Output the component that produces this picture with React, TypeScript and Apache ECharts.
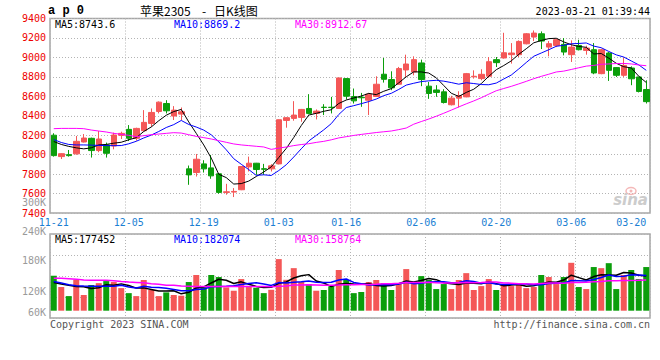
import React, { useEffect, useRef } from "react";
import * as echarts from "echarts";

const dates = [
  "11-21", "11-22", "11-23", "11-24", "11-25", "11-28", "11-29", "11-30", "12-01", "12-02",
  "12-05", "12-06", "12-07", "12-08", "12-09", "12-12", "12-13", "12-14", "12-15", "12-16",
  "12-19", "12-20", "12-21", "12-22", "12-23", "12-26", "12-27", "12-28", "12-29", "12-30",
  "01-03", "01-04", "01-05", "01-06", "01-09", "01-10", "01-11", "01-12", "01-13",
  "01-16", "01-17", "01-18", "01-19", "01-20",
  "01-30", "01-31", "02-01", "02-02", "02-03",
  "02-06", "02-07", "02-08", "02-09", "02-10", "02-13", "02-14", "02-15", "02-16", "02-17",
  "02-20", "02-21", "02-22", "02-23", "02-24", "02-27", "02-28", "03-01", "03-02", "03-03",
  "03-06", "03-07", "03-08", "03-09", "03-10", "03-13", "03-14", "03-15", "03-16", "03-17",
  "03-20",
];
const tickDates = ["11-21", "12-05", "12-19", "01-03", "01-16", "02-06", "02-20", "03-06", "03-20"];

const opens = [
  8200, 7980, 8000, 8008, 8130, 8168, 8042, 8100, 8089, 8199,
  8260, 8168, 8246, 8321, 8444, 8526, 8397, 8417, 7854, 7816,
  7905, 7864, 7803, 7612, 7615, 7639, 7874, 7912, 7855, 7854,
  7905, 8352, 8373, 8383, 8475, 8424, 8488, 8487, 8475, 8782,
  8598, 8590, 8560, 8598, 8827, 8772, 8724, 8871, 8850, 8943,
  8704, 8665, 8646, 8513, 8581, 8594, 8800, 8782, 8806, 8977,
  8994, 9028, 9028, 9140, 9209, 9243, 9106, 9123, 9134, 9028,
  9123, 9072, 9079, 8833, 9045, 8895, 8816, 8891, 8799, 8670,
];
const closes = [
  7990, 8010, 7990, 8137, 8171, 8042, 8161, 8014, 8202, 8219,
  8168, 8270, 8332, 8434, 8540, 8451, 8458, 8441, 7792, 7953,
  7854, 7782, 7612, 7618, 7622, 7878, 7912, 7847, 7850, 7885,
  8359, 8380, 8407, 8465, 8424, 8448, 8485, 8485.5, 8789, 8601,
  8553, 8585, 8622, 8724, 8775, 8687, 8885, 8932, 8977, 8772,
  8629, 8640, 8536, 8581, 8608, 8833, 8806, 8826, 8956, 8946,
  9048, 9045, 9164, 9243, 9250, 9168, 9141, 9182, 9055, 9106,
  9079, 9096, 8840, 9079, 8867, 8816, 8918, 8780, 8650, 8545,
];
const lows = [
  7980, 7955, 7980, 8000, 8125, 7970, 8025, 7970, 8055, 8161,
  8140, 8144, 8240, 8287, 8424, 8424, 8356, 8356, 7690, 7775,
  7816, 7752, 7598, 7588, 7564, 7635, 7827, 7793, 7793, 7827,
  7900, 8277, 8349, 8338, 8414, 8362, 8407, 8424, 8470, 8567,
  8526, 8492, 8407, 8595, 8741, 8663, 8720, 8799, 8816, 8704,
  8574, 8595, 8526, 8506, 8485, 8590, 8782, 8765, 8792, 8901,
  8987, 8936, 9004, 9134, 9168, 9086, 9011, 9106, 9021, 8953,
  9072, 9028, 8827, 8827, 8758, 8799, 8799, 8714, 8640, 8526,
];
const highs = [
  8220, 8015, 8048, 8192, 8212, 8175, 8243, 8124, 8226, 8236,
  8304, 8277, 8458, 8475, 8547, 8560, 8499, 8485, 7888, 8007,
  7943, 7997, 7810, 7700, 7656, 7880, 7980, 7915, 7905, 7902,
  8360, 8385, 8550, 8470, 8622, 8465, 8519, 8594, 8790, 8785,
  8680, 8635, 8635, 8806, 8994, 8857, 8902, 9028, 9011, 8977,
  8748, 8714, 8673, 8605, 8652, 8840, 8867, 8878, 9004, 9004,
  9253, 9147, 9175, 9250, 9277, 9267, 9168, 9192, 9199, 9175,
  9181, 9120, 9147, 9089, 9055, 8901, 8997, 8908, 8800, 8765,
];
const volumes = [
  180500, 122200, 75400, 159500, 81200, 132700, 142300, 152800, 148000, 116500,
  90700, 75400, 158500, 107000, 75400, 94500, 81200, 77400, 148000, 184300,
  122200, 184300, 173800, 120300, 103100, 163300, 122200, 118400, 90700, 107900,
  266400, 159500, 219700, 148000, 137500, 103100, 107000, 125100, 210100, 158500,
  90700, 96500, 148000, 158500, 142300, 107000, 142300, 214900, 137500, 178600,
  158500, 111700, 137500, 111700, 158500, 193900, 107000, 127000, 163300, 107000,
  137500, 127000, 142300, 116500, 122200, 184300, 173800, 137500, 173800, 247300,
  122200, 111700, 225400, 219700, 245400, 111700, 184300, 210100, 163300, 225400,
];

// moving-average values before enough visible history exists
const ma5Head = [8135, 8105, 8085, 8070];
const ma10Head = [8155, 8125, 8105, 8100, 8100, 8098, 8095, 8093, 8092];
const ma30Head = [
  8267, 8270, 8270, 8270, 8267, 8253, 8243, 8233, 8219, 8209,
  8199, 8185, 8195, 8205, 8212, 8219, 8226, 8222, 8205, 8188,
  8175, 8161, 8144, 8127, 8110, 8100, 8093, 8086, 8079,
];
const volMa5Head = [146000, 138000, 131000, 125000];
const volMa10Head = [151000, 143000, 134000, 129000, 127000, 126000, 126000, 126000, 126000];
const volMa30Head = [
  167000, 167000, 165000, 163000, 158000, 157000, 157000, 157000, 155000, 151000,
  148000, 146000, 144000, 139000, 136000, 132000, 131000, 127000, 126000, 125000,
  125000, 125000, 125000, 125000, 125000, 125000, 125000, 125000, 125000,
];

const priceHeader = ["MA5:8743.6", "MA10:8869.2", "MA30:8912.67"];
const volHeader = ["MA5:177452", "MA10:182074", "MA30:158764"];
const volTickLabels = ["300K", "240K", "180K", "120K", "60K"];

function movingAvg(src: number[], n: number, head: number[]) {
  return src.map((_, i) => {
    if (i < n - 1) return head[i];
    let s = 0;
    for (let k = i - n + 1; k <= i; k++) s += src[k];
    return Math.round((s / n) * 100) / 100;
  });
}

const RED = "#f45757";
const GREEN = "#0b9e0b";
const MONO = "'DejaVu Sans Mono', 'Liberation Mono', monospace";

export default function App() {
  const ref = useRef<HTMLDivElement>(null);

  useEffect(() => {
    if (!ref.current) return;
    const chart = echarts.init(ref.current, null, { renderer: "svg" });
    const dotted = { color: "#b4b4b4", width: 1, type: [1, 2] as number[] };
    const headerColors = ["#000000", "#0000ff", "#ff00ff"];
    const headerX = [55, 174, 295];
    const volYs = [202, 231, 260, 291, 312];

    const graphic: any[] = [
      { type: "text", x: 48, y: 11, style: { text: "a p 0", font: `bold 12px 'Liberation Mono'`, fill: "#000", textVerticalAlign: "middle" } },
      { type: "text", x: 140, y: 10, style: { text: "苹果2305", font: `12px 'Noto Sans CJK SC'`, fill: "#000", textVerticalAlign: "middle" } },
      { type: "text", x: 202, y: 10, style: { text: "-", font: `12px 'Noto Sans CJK SC'`, fill: "#000", textVerticalAlign: "middle" } },
      { type: "text", x: 214, y: 10, style: { text: "日K线图", font: `12px 'Noto Sans CJK SC'`, fill: "#000", textVerticalAlign: "middle" } },
      { type: "text", x: 650, y: 11, style: { text: "2023-03-21 01:39:44", font: `10px ${MONO}`, fill: "#000", textAlign: "right", textVerticalAlign: "middle" } },
      { type: "text", x: 50, y: 324, style: { text: "Copyright 2023 SINA.COM", font: `10px ${MONO}`, fill: "#555", textVerticalAlign: "middle" } },
      { type: "text", x: 650, y: 324, style: { text: "http://finance.sina.com.cn", font: `10px ${MONO}`, fill: "#555", textAlign: "right", textVerticalAlign: "middle" } },
      { type: "ellipse", shape: { cx: 631, cy: 191, rx: 5, ry: 3.5 }, style: { fill: "none", stroke: "#f4b8b8", lineWidth: 1.5 }, z: 1 },
      { type: "circle", shape: { cx: 631, cy: 191, r: 1.5 }, style: { fill: "#f4b8b8" }, z: 1 },
      { type: "text", x: 648, y: 200, style: { text: "sina", font: "italic bold 15px 'DejaVu Sans'", fill: "#cccccc", textAlign: "right", textVerticalAlign: "middle" }, z: 1 },
    ];
    priceHeader.forEach((t, i) =>
      graphic.push({ type: "text", x: headerX[i], y: 24, style: { text: t, font: `10px ${MONO}`, fill: headerColors[i], textVerticalAlign: "middle" } })
    );
    volHeader.forEach((t, i) =>
      graphic.push({ type: "text", x: headerX[i], y: 239, style: { text: t, font: `10px ${MONO}`, fill: headerColors[i], textVerticalAlign: "middle" } })
    );
    volTickLabels.forEach((t, i) =>
      graphic.push({ type: "text", x: 46, y: volYs[i], style: { text: t, font: `10px ${MONO}`, fill: "#9a9a9a", textAlign: "right", textVerticalAlign: "middle" } })
    );

    const candleData = opens.map((o, i) => [o, closes[i], lows[i], highs[i]]);
    const volData = volumes.map((v, i) => ({
      value: v,
      itemStyle: { color: closes[i] >= opens[i] ? RED : GREEN },
    }));

    const hiddenAxis = { axisLine: { show: false }, axisTick: { show: false }, axisLabel: { show: false } };

    const option: any = {
      animation: false,
      backgroundColor: "#ffffff",
      grid: [
        { left: 50, top: 18.5, width: 600, height: 194.5, show: true, borderColor: "#a6a6a6", borderWidth: 1.5, backgroundColor: "transparent" },
        { left: 50, top: 234, width: 600, height: 84, show: true, borderColor: "#a6a6a6", borderWidth: 1.5, backgroundColor: "transparent" },
      ],
      xAxis: [
        {
          type: "category", gridIndex: 0, data: dates, boundaryGap: true,
          axisLine: { show: false }, axisTick: { show: false }, splitLine: { show: false },
          axisLabel: {
            interval: (_: number, v: string) => tickDates.includes(v),
            color: "#1b7fd3", fontFamily: MONO, fontSize: 10, margin: 4,
            alignMaxLabel: "right", showMaxLabel: true, showMinLabel: true,
          },
        },
        { type: "category", gridIndex: 1, data: dates, boundaryGap: true, ...hiddenAxis, splitLine: { show: false } },
        { type: "value", gridIndex: 0, position: "top", min: 0, max: 8, interval: 1, ...hiddenAxis, splitLine: { show: true, lineStyle: dotted } },
        { type: "value", gridIndex: 1, position: "top", min: 0, max: 8, interval: 1, ...hiddenAxis, splitLine: { show: true, lineStyle: dotted } },
      ],
      yAxis: [
        {
          type: "value", gridIndex: 0, min: 7400, max: 9400, interval: 200,
          axisLine: { show: false }, axisTick: { show: false },
          axisLabel: { color: "#ee0000", fontFamily: MONO, fontSize: 10, margin: 4, formatter: (v: number) => String(v) },
          splitLine: { show: true, lineStyle: dotted },
        },
        { type: "value", gridIndex: 1, min: -37700, max: 396000, ...hiddenAxis, splitLine: { show: false } },
        { type: "value", gridIndex: 1, position: "right", min: 0, max: 4, interval: 1, ...hiddenAxis, splitLine: { show: true, lineStyle: dotted } },
      ],
      series: [
        {
          type: "candlestick", xAxisIndex: 0, yAxisIndex: 0, data: candleData, barWidth: 6,
          itemStyle: { color: RED, color0: GREEN, borderColor: RED, borderColor0: GREEN, borderWidth: 1 },
        },
        { type: "line", xAxisIndex: 0, yAxisIndex: 0, data: movingAvg(closes, 5, ma5Head), symbol: "none", lineStyle: { color: "#000", width: 1 }, z: 3 },
        { type: "line", xAxisIndex: 0, yAxisIndex: 0, data: movingAvg(closes, 10, ma10Head), symbol: "none", lineStyle: { color: "#0000ff", width: 1 }, z: 3 },
        { type: "line", xAxisIndex: 0, yAxisIndex: 0, data: movingAvg(closes, 30, ma30Head), symbol: "none", lineStyle: { color: "#ff00ff", width: 1 }, z: 3 },
        { type: "bar", xAxisIndex: 1, yAxisIndex: 1, data: volData, barWidth: 6 },
        { type: "line", xAxisIndex: 1, yAxisIndex: 1, data: movingAvg(volumes, 5, volMa5Head), symbol: "none", lineStyle: { color: "#000", width: 1.5 }, z: 3 },
        { type: "line", xAxisIndex: 1, yAxisIndex: 1, data: movingAvg(volumes, 10, volMa10Head), symbol: "none", lineStyle: { color: "#0000ff", width: 1.5 }, z: 3 },
        { type: "line", xAxisIndex: 1, yAxisIndex: 1, data: movingAvg(volumes, 30, volMa30Head), symbol: "none", lineStyle: { color: "#ff00ff", width: 1.5 }, z: 3 },
      ],
      graphic,
    };

    chart.setOption(option);
    return () => chart.dispose();
  }, []);

  return (
    <div
      ref={ref}
      style={{ position: "fixed", left: 0, top: 0, width: 660, height: 360, background: "#fff" }}
    />
  );
}
